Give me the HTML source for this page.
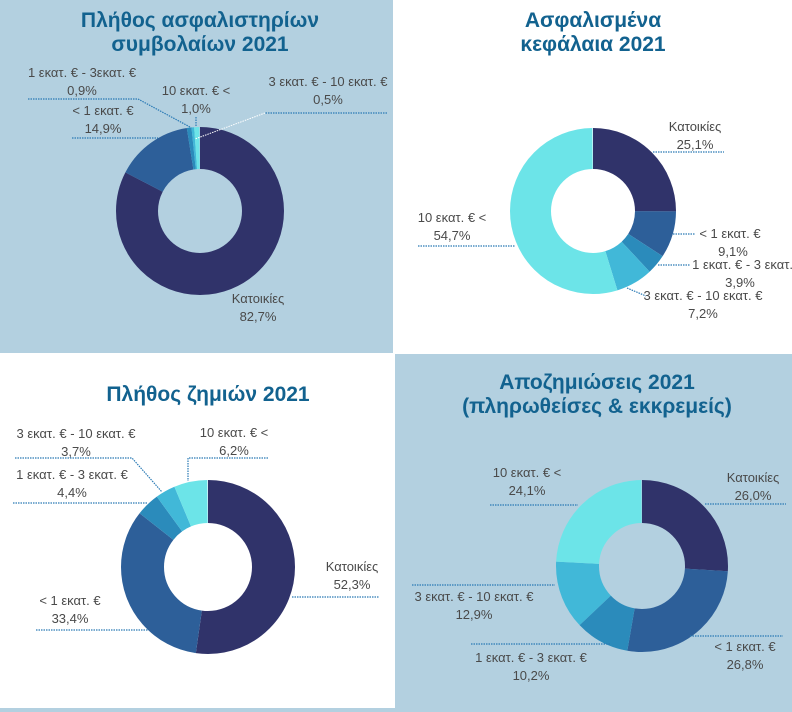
<!DOCTYPE html>
<html><head><meta charset="utf-8"><style>
html,body{margin:0;padding:0;background:#fff;}
svg{display:block;}
.t{font-family:"Liberation Sans","DejaVu Sans",sans-serif;font-weight:bold;font-size:21px;fill:#12628f;text-anchor:middle;}
.l{font-family:"Liberation Sans","DejaVu Sans",sans-serif;font-size:13px;fill:#4a4a4a;text-anchor:middle;}
.d{stroke:#2a7ab5;stroke-width:1.2;stroke-dasharray:1.5 1;fill:none;}
</style></head><body>
<svg width="792" height="712" viewBox="0 0 792 712" xmlns="http://www.w3.org/2000/svg">
<rect x="0" y="0" width="792" height="712" fill="#fff"/>
<rect x="0" y="0" width="393" height="353" fill="#b3d0e0"/>
<rect x="396" y="354" width="396" height="358" fill="#b3d0e0"/>
<rect x="0" y="708" width="396" height="4" fill="#b3d0e0"/>
<rect x="395" y="354" width="2" height="358" fill="#b3d0e0"/>

<!-- TL -->
<text class="t" x="200" y="27">Πλήθος ασφαλιστηρίων</text>
<text class="t" x="200" y="51">συμβολαίων 2021</text>
<g transform="rotate(-90 200 211)" fill="none" stroke-width="42">
<circle cx="200" cy="211" r="63" pathLength="100" stroke="#30336a" stroke-dasharray="82.7 100" stroke-dashoffset="0"/>
<circle cx="200" cy="211" r="63" pathLength="100" stroke="#2d5f99" stroke-dasharray="14.9 100" stroke-dashoffset="-82.7"/>
<circle cx="200" cy="211" r="63" pathLength="100" stroke="#2b8bbb" stroke-dasharray="0.9 100" stroke-dashoffset="-97.6"/>
<circle cx="200" cy="211" r="63" pathLength="100" stroke="#41b8d8" stroke-dasharray="0.5 100" stroke-dashoffset="-98.5"/>
<circle cx="200" cy="211" r="63" pathLength="100" stroke="#6ce4e8" stroke-dasharray="1.0 100" stroke-dashoffset="-99"/>
</g>
<text class="l" x="82" y="77">1 εκατ. € - 3εκατ. €</text>
<text class="l" x="82" y="95">0,9%</text>
<path class="d" d="M28 99 H138 L190 127"/>
<text class="l" x="196" y="95">10 εκατ. €  &lt;</text>
<text class="l" x="196" y="113">1,0%</text>
<path class="d" d="M196 117 V127"/>
<text class="l" x="328" y="86">3 εκατ. € - 10 εκατ. €</text>
<text class="l" x="328" y="104">0,5%</text>
<path class="d" d="M387 113 H265"/>
<path d="M265 113 L195 139" stroke="#fff" stroke-width="1" stroke-dasharray="1.5 1"/>
<text class="l" x="103" y="115">&lt; 1 εκατ. €</text>
<text class="l" x="103" y="133">14,9%</text>
<path class="d" d="M72 138 H158"/>
<text class="l" x="258" y="303">Κατοικίες</text>
<text class="l" x="258" y="321">82,7%</text>

<!-- TR -->
<text class="t" x="593" y="27">Ασφαλισμένα</text>
<text class="t" x="593" y="51">κεφάλαια 2021</text>
<g transform="rotate(-90 593 211)" fill="none" stroke-width="41">
<circle cx="593" cy="211" r="62.5" pathLength="100" stroke="#30336a" stroke-dasharray="25.1 100" stroke-dashoffset="0"/>
<circle cx="593" cy="211" r="62.5" pathLength="100" stroke="#2d5f99" stroke-dasharray="9.1 100" stroke-dashoffset="-25.1"/>
<circle cx="593" cy="211" r="62.5" pathLength="100" stroke="#2b8bbb" stroke-dasharray="3.9 100" stroke-dashoffset="-34.2"/>
<circle cx="593" cy="211" r="62.5" pathLength="100" stroke="#41b8d8" stroke-dasharray="7.2 100" stroke-dashoffset="-38.1"/>
<circle cx="593" cy="211" r="62.5" pathLength="100" stroke="#6ce4e8" stroke-dasharray="54.7 100" stroke-dashoffset="-45.3"/>
</g>
<text class="l" x="695" y="131">Κατοικίες</text>
<text class="l" x="695" y="149">25,1%</text>
<path class="d" d="M653 152 H724"/>
<text class="l" x="452" y="222">10 εκατ. €  &lt;</text>
<text class="l" x="452" y="240">54,7%</text>
<path class="d" d="M418 246 H515"/>
<text class="l" x="730" y="238">&lt; 1 εκατ. €</text>
<text class="l" x="733" y="256">9,1%</text>
<path class="d" d="M673 234 H695"/>
<text class="l" x="748" y="269">1 εκατ. € - 3 εκατ. €</text>
<text class="l" x="740" y="287">3,9%</text>
<path class="d" d="M658 265 H690"/>
<text class="l" x="703" y="300">3 εκατ. € - 10 εκατ. €</text>
<text class="l" x="703" y="318">7,2%</text>
<path class="d" d="M627 288 L646 296"/>

<!-- BL -->
<text class="t" x="208" y="401">Πλήθος ζημιών 2021</text>
<g transform="rotate(-90 208 567)" fill="none" stroke-width="43">
<circle cx="208" cy="567" r="65.5" pathLength="100" stroke="#30336a" stroke-dasharray="52.3 100" stroke-dashoffset="0"/>
<circle cx="208" cy="567" r="65.5" pathLength="100" stroke="#2d5f99" stroke-dasharray="33.4 100" stroke-dashoffset="-52.3"/>
<circle cx="208" cy="567" r="65.5" pathLength="100" stroke="#2b8bbb" stroke-dasharray="4.4 100" stroke-dashoffset="-85.7"/>
<circle cx="208" cy="567" r="65.5" pathLength="100" stroke="#41b8d8" stroke-dasharray="3.7 100" stroke-dashoffset="-90.1"/>
<circle cx="208" cy="567" r="65.5" pathLength="100" stroke="#6ce4e8" stroke-dasharray="6.2 100" stroke-dashoffset="-93.8"/>
</g>
<text class="l" x="76" y="438">3 εκατ. € - 10 εκατ. €</text>
<text class="l" x="76" y="456">3,7%</text>
<path class="d" d="M15 458 H132 L162 492"/>
<text class="l" x="72" y="479">1 εκατ. € - 3 εκατ. €</text>
<text class="l" x="72" y="497">4,4%</text>
<path class="d" d="M13 503 H148"/>
<text class="l" x="234" y="437">10 εκατ. €  &lt;</text>
<text class="l" x="234" y="455">6,2%</text>
<path class="d" d="M268 458 H188 V481"/>
<text class="l" x="352" y="571">Κατοικίες</text>
<text class="l" x="352" y="589">52,3%</text>
<path class="d" d="M292 597 H379"/>
<text class="l" x="70" y="605">&lt; 1 εκατ. €</text>
<text class="l" x="70" y="623">33,4%</text>
<path class="d" d="M36 630 H148"/>

<!-- BR -->
<text class="t" x="597" y="389">Αποζημιώσεις 2021</text>
<text class="t" x="597" y="413">(πληρωθείσες &amp; εκκρεμείς)</text>
<g transform="rotate(-90 642 566)" fill="none" stroke-width="43">
<circle cx="642" cy="566" r="64.5" pathLength="100" stroke="#30336a" stroke-dasharray="26.0 100" stroke-dashoffset="0"/>
<circle cx="642" cy="566" r="64.5" pathLength="100" stroke="#2d5f99" stroke-dasharray="26.8 100" stroke-dashoffset="-26"/>
<circle cx="642" cy="566" r="64.5" pathLength="100" stroke="#2b8bbb" stroke-dasharray="10.2 100" stroke-dashoffset="-52.8"/>
<circle cx="642" cy="566" r="64.5" pathLength="100" stroke="#41b8d8" stroke-dasharray="12.9 100" stroke-dashoffset="-63"/>
<circle cx="642" cy="566" r="64.5" pathLength="100" stroke="#6ce4e8" stroke-dasharray="24.1 100" stroke-dashoffset="-75.9"/>
</g>
<text class="l" x="527" y="477">10 εκατ. €  &lt;</text>
<text class="l" x="527" y="495">24,1%</text>
<path class="d" d="M490 505 H578"/>
<text class="l" x="753" y="482">Κατοικίες</text>
<text class="l" x="753" y="500">26,0%</text>
<path class="d" d="M705 504 H786"/>
<text class="l" x="474" y="601">3 εκατ. € - 10 εκατ. €</text>
<text class="l" x="474" y="619">12,9%</text>
<path class="d" d="M412 585 H555"/>
<text class="l" x="531" y="662">1 εκατ. € - 3 εκατ. €</text>
<text class="l" x="531" y="680">10,2%</text>
<path class="d" d="M471 644 H610"/>
<text class="l" x="745" y="651">&lt; 1 εκατ. €</text>
<text class="l" x="745" y="669">26,8%</text>
<path class="d" d="M690 636 H783"/>
</svg>
</body></html>
